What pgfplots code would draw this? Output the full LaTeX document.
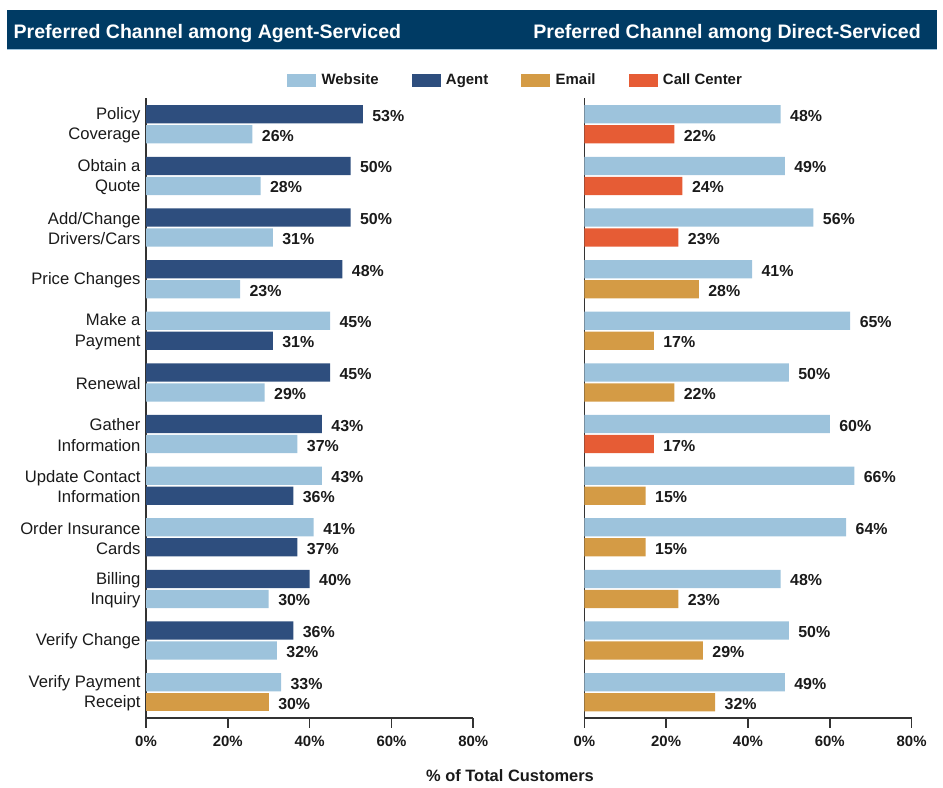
\documentclass[border=0pt]{standalone}
\usepackage{pgfplots}
\pgfplotsset{compat=1.18}
\usepackage{fontspec}
\setmainfont{Liberation Sans}
\definecolor{web}{HTML}{9DC3DC}
\definecolor{agent}{HTML}{2E4E7E}
\definecolor{email}{HTML}{D49B45}
\definecolor{callc}{HTML}{E65C35}
\definecolor{titlebg}{HTML}{003B64}
\definecolor{axisc}{HTML}{333333}
\definecolor{txt}{HTML}{1A1A1A}

\pgfplotsset{
 panel/.style={
  scale only axis, width=327.3bp, height=619.5bp,
  xmin=0,xmax=80,ymin=-0.5,ymax=11.5,
  xbar, bar shift=0pt, bar width=0.354,
  axis lines*=left, axis line style={-, line width=1.6bp, color=axisc},
  xtick={0,20,40,60,80}, xticklabels={0\%,20\%,40\%,60\%,80\%},
  tick align=outside, major tick length=10bp,
  xtick style={line width=1.6bp, color=axisc},
  ytick={0,...,11}, ytick style={draw=none},
  xticklabel style={font=\fontsize{15}{18}\selectfont\bfseries, text=txt, yshift=-4.5bp},
  /pgf/number format/assume math mode=true,
  point meta=x,
  nodes near coords={\pgfmathprintnumber{\pgfplotspointmeta}\%},
  every node near coord/.append style={font=\fontsize{16}{19}\selectfont\bfseries, anchor=west, xshift=6bp, yshift=-1.5bp, text=txt},
  clip=false,
 },
}

\begin{document}
\begin{tikzpicture}
\path[use as bounding box] (0bp,0bp) rectangle (943bp,788bp);
% title band
\fill[titlebg] (7bp,739bp) rectangle (937bp,778bp);
\draw[web, line width=0.8bp] (7bp,738.6bp) -- (937bp,738.6bp);
\node[anchor=base west, text=white, font=\fontsize{19.6}{22}\selectfont\bfseries, inner sep=0pt] at (13.5bp,749.7bp) {Preferred Channel among Agent-Serviced};
\node[anchor=base east, text=white, font=\fontsize{19.6}{22}\selectfont\bfseries, inner sep=0pt] at (921bp,749.7bp) {Preferred Channel among Direct-Serviced};

% left panel
\begin{axis}[panel, at={(146bp,689.5bp)}, anchor=north west,
  yticklabels={{Verify Payment\\Receipt},{Verify Change},{Billing\\Inquiry},{Order Insurance\\Cards},{Update Contact\\Information},{Gather\\Information},{Renewal},{Make a\\Payment},{Price Changes},{Add/Change\\Drivers/Cars},{Obtain a\\Quote},{Policy\\Coverage}},
  yticklabel style={align=right, font=\fontsize{16.7}{20.5}\selectfont, inner sep=0pt, xshift=4.7bp, yshift=-1bp, text=txt},
  legend columns=4,
  legend style={at={(1.126,1.030)}, anchor=center, draw=none, fill=none,
    font=\fontsize{15}{18}\selectfont\bfseries,
    nodes={inner sep=0pt, text=txt},
    /tikz/every odd column/.append style={column sep=6bp},
    /tikz/every even column/.append style={column sep=33bp}},
]
\addlegendimage{legend image code/.code={\fill[web] (0bp,-6bp) rectangle (28bp,6bp);}}
\addlegendentry{Website}
\addlegendimage{legend image code/.code={\fill[agent] (0bp,-6bp) rectangle (28bp,6bp);}}
\addlegendentry{Agent}
\addlegendimage{legend image code/.code={\fill[email] (0bp,-6bp) rectangle (28bp,6bp);}}
\addlegendentry{Email}
\addlegendimage{legend image code/.code={\fill[callc] (0bp,-6bp) rectangle (28bp,6bp);}}
\addlegendentry{Call Center}
\addplot[forget plot, fill=agent, draw=none] coordinates {(53,11.194) (50,10.194) (50,9.194) (48,8.194) (31,6.806) (45,6.194) (43,5.194) (36,3.806) (37,2.806) (40,2.194) (36,1.194)};
\addplot[forget plot, fill=web, draw=none] coordinates {(26,10.806) (28,9.806) (31,8.806) (23,7.806) (45,7.194) (29,5.806) (37,4.806) (43,4.194) (41,3.194) (30,1.806) (32,0.806) (33,0.194)};
\addplot[forget plot, fill=email, draw=none] coordinates {(30,-0.194)};
\end{axis}

% right panel
\begin{axis}[panel, at={(584.3bp,689.5bp)}, anchor=north west, yticklabels={}]
\addplot[fill=web, draw=none] coordinates {(48,11.194) (49,10.194) (56,9.194) (41,8.194) (65,7.194) (50,6.194) (60,5.194) (66,4.194) (64,3.194) (48,2.194) (50,1.194) (49,0.194)};
\addplot[fill=callc, draw=none] coordinates {(22,10.806) (24,9.806) (23,8.806) (17,4.806)};
\addplot[fill=email, draw=none] coordinates {(28,7.806) (17,6.806) (22,5.806) (15,3.806) (15,2.806) (23,1.806) (29,0.806) (32,-0.194)};
\end{axis}

\node[font=\fontsize{16.5}{19}\selectfont\bfseries, text=txt, inner sep=0pt] at (510bp,12.5bp) {\% of Total Customers};
\end{tikzpicture}
\end{document}
